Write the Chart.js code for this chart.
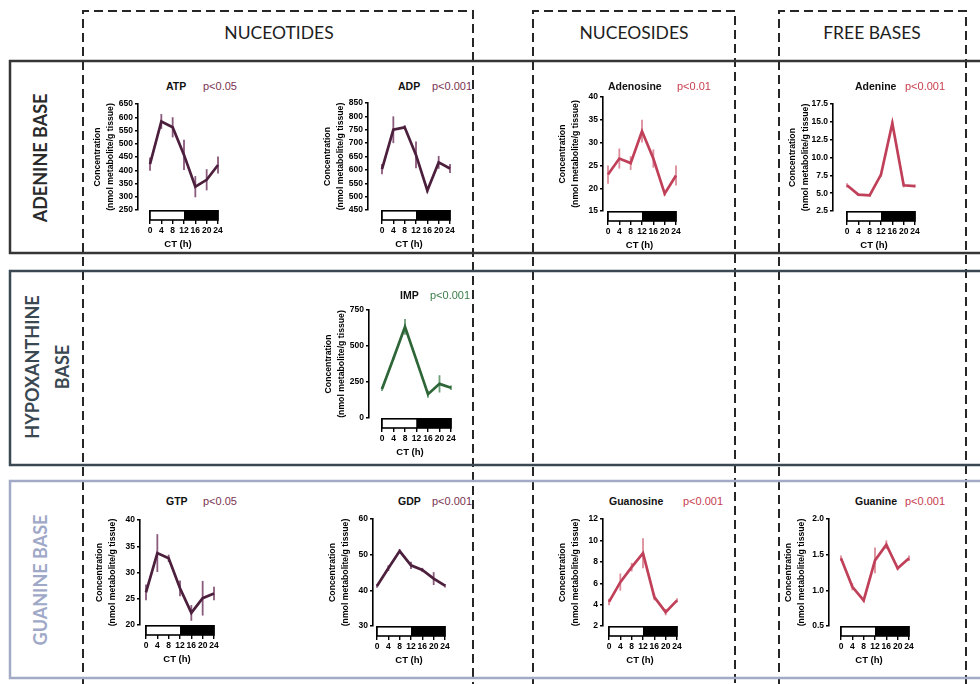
<!DOCTYPE html>
<html>
<head>
<meta charset="utf-8">
<script src="https://cdn.jsdelivr.net/npm/chart.js@4.4.1/dist/chart.umd.min.js"></script>
<style>
  body { margin: 0; background: #fff; width: 980px; height: 684px; overflow: hidden; position: relative; font-family: "Liberation Sans", Arial, sans-serif; }
  canvas { position: absolute; }
  svg { position: absolute; left: 0; top: 0; }
  .hdr { position: absolute; font-family: Lato, sans-serif; font-size: 17.5px; color: #1e1e1e; transform: translate(-50%, -50%); white-space: nowrap; }
  .row { position: absolute; font-family: Lato, sans-serif; font-weight: 700; font-size: 18px; line-height: 30px; text-align: center; white-space: nowrap; transform: translate(-50%, -50%) rotate(-90deg); }
  .name { position: absolute; font-weight: bold; font-size: 10.5px; color: #111; transform: translateY(-50%); white-space: nowrap; }
  .pval { position: absolute; font-size: 11px; transform: translateY(-50%); white-space: nowrap; }
</style>
</head>
<body>
<svg width="980" height="684">
  <g fill="none" stroke="#262626" stroke-width="2" stroke-dasharray="9 5">
    <path d="M83 700 V11 H473 V700"/>
    <path d="M533 700 V11 H735 V700"/>
    <path d="M779 700 V11 H966 V700"/>
  </g>
  <rect x="10" y="61" width="1000" height="192" fill="none" stroke="#353535" stroke-width="2.5"/>
  <rect x="10" y="271" width="1000" height="194" fill="none" stroke="#3a4852" stroke-width="2.5"/>
  <rect x="10" y="481" width="1000" height="197" fill="none" stroke="#a3aac6" stroke-width="2.5"/>
</svg>

<div class="hdr" style="left:279px;top:32px">NUCEOTIDES</div>
<div class="hdr" style="left:634px;top:32px">NUCEOSIDES</div>
<div class="hdr" style="left:872px;top:32px">FREE BASES</div>

<div class="row" style="left:40px;top:158px;color:#2a2a2a">ADENINE BASE</div>
<div class="row" style="left:47px;top:367px;color:#3a4852">HYPOXANTHINE<br>BASE</div>
<div class="row" style="left:40px;top:580px;color:#a0a8c8">GUANINE BASE</div>

<script>
// sampling times (circadian time, hours)
var ctHours = [0, 4, 8, 12, 16, 20, 24];
// light phase 0-12, dark phase 12-24
var lightPhase = [0, 12];
var darkPhase = [12, 24];

var atpMean = [423, 584, 562, 458, 338, 364, 420];
var atpErr = [25, 28, 38, 57, 40, 40, 32];
var adpMean = [603, 750, 759, 656, 523, 628, 605];
var adpErr = [19, 50, 8, 50, 8, 24, 17];
var adenosineMean = [23, 26.5, 25.5, 32.5, 26.5, 18.8, 22.8];
var adenosineErr = [2, 2.2, 1.5, 2.5, 2, 0.5, 2.2];
var adenineMean = [6.1, 4.8, 4.7, 7.6, 14.8, 6.1, 6.0];
var adenineErr = [0.3, 0.2, 0.2, 0.3, 0.4, 0.3, 0.2];
var impMean = [202, 415, 633, 400, 165, 237, 210];
var impErr = [15, 10, 55, 10, 25, 60, 15];
var gtpMean = [26.2, 33.7, 32.7, 27, 22.3, 25.1, 26];
var gtpErr = [1.5, 3.6, 0.7, 1.5, 1.5, 3.3, 1.3];
var gdpMean = [41.2, 46.2, 51, 47, 45.7, 43.3, 41.3];
var gdpErr = [0.5, 0.8, 0.5, 1, 0.6, 1.8, 0.5];
var guanosineMean = [4.25, 6.1, 7.5, 8.8, 4.7, 3.3, 4.4];
var guanosineErr = [0.3, 0.8, 0.4, 1.4, 0.3, 0.3, 0.2];
var guanineMean = [1.45, 1.05, 0.86, 1.42, 1.64, 1.31, 1.45];
var guanineErr = [0.04, 0.05, 0.03, 0.18, 0.06, 0.03, 0.04];

// y tick labels
var atpTicks = ['250', '300', '350', '400', '450', '500', '550', '600', '650'];
var adpTicks = ['450', '500', '550', '600', '650', '700', '750', '800', '850'];
var adenosineTicks = ['15', '20', '25', '30', '35', '40'];
var adenineTicks = ['2.5', '5.0', '7.5', '10.0', '12.5', '15.0', '17.5'];
var impTicks = ['0', '250', '500', '750'];
var gtpTicks = ['20', '25', '30', '35', '40'];
var gdpTicks = ['30', '40', '50', '60'];
var guanosineTicks = ['2', '4', '6', '8', '10', '12'];
var guanineTicks = ['0.5', '1.0', '1.5', '2.0'];

var plum = { line: '#4c1f3d', err: '#8a5a7c', p: '#7b3352' };
var rose = { line: '#c0405a', err: '#dc8c9a', p: '#c8404f' };
var green = { line: '#2e6638', err: '#6d9e76', p: '#3c7c48' };

var AXIS_W = 50, PAD = 10, XAXIS_H = 43, BAR_H = 10;

var errorBars = {
    id: 'errorBars',
    beforeDatasetsDraw: function (chart, args, opts) {
        var ctx = chart.ctx, x = chart.scales.x, y = chart.scales.y;
        ctx.save();
        ctx.strokeStyle = opts.color;
        ctx.lineWidth = 1.8;
        opts.mean.forEach(function (m, i) {
            var px = x.getPixelForValue(ctHours[i]);
            ctx.beginPath();
            ctx.moveTo(px, y.getPixelForValue(m - opts.err[i]));
            ctx.lineTo(px, y.getPixelForValue(m + opts.err[i]));
            ctx.stroke();
        });
        ctx.restore();
    }
};

var lightDark = {
    id: 'lightDark',
    afterDraw: function (chart) {
        var ctx = chart.ctx, x = chart.scales.x, top = chart.chartArea.bottom;
        var l0 = x.getPixelForValue(lightPhase[0]), l1 = x.getPixelForValue(lightPhase[1]);
        var d1 = x.getPixelForValue(darkPhase[1]);
        ctx.save();
        ctx.fillStyle = '#fff';
        ctx.fillRect(l0, top, l1 - l0, BAR_H);
        ctx.fillStyle = '#000';
        ctx.fillRect(l1, top, d1 - l1, BAR_H);
        ctx.strokeStyle = '#000';
        ctx.lineWidth = 1.6;
        ctx.strokeRect(l0, top + 0.8, d1 - l0, BAR_H - 0.8);
        ctx.restore();
    }
};

function panel(geo, name, pText, mean, err, ticks, col) {
    var w = geo.x24 - geo.axisX + AXIS_W + PAD;
    var h = geo.yBot - geo.yTop + PAD + XAXIS_H;
    var cv = document.createElement('canvas');
    cv.width = w; cv.height = h;
    cv.style.left = (geo.axisX - AXIS_W) + 'px';
    cv.style.top = (geo.yTop - PAD) + 'px';
    document.body.appendChild(cv);

    var n = document.createElement('div');
    n.className = 'name'; n.textContent = name;
    n.style.left = geo.nameX + 'px'; n.style.top = geo.titleY + 'px';
    document.body.appendChild(n);
    var p = document.createElement('div');
    p.className = 'pval'; p.textContent = pText; p.style.color = col.p;
    p.style.left = geo.pX + 'px'; p.style.top = geo.titleY + 'px';
    document.body.appendChild(p);

    var tickVals = ticks.map(parseFloat);
    var xMin = -(geo.x0 - geo.axisX) * 24 / (geo.x24 - geo.x0);

    new Chart(cv, {
        type: 'line',
        data: {
            datasets: [{
                data: mean.map(function (v, i) { return { x: ctHours[i], y: v }; }),
                borderColor: col.line,
                borderWidth: 2.7,
                pointRadius: 0,
                tension: 0,
                clip: false
            }]
        },
        options: {
            responsive: false,
            animation: false,
            layout: { padding: { top: PAD, right: PAD, left: 0, bottom: 0 } },
            plugins: {
                legend: { display: false },
                tooltip: { enabled: false },
                errorBars: { mean: mean, err: err, color: col.err }
            },
            scales: {
                x: {
                    type: 'linear',
                    min: xMin, max: 24,
                    afterBuildTicks: function (s) { s.ticks = ctHours.map(function (v) { return { value: v }; }); },
                    afterFit: function (s) { s.height = XAXIS_H; },
                    border: { display: false },
                    grid: { drawOnChartArea: false, drawTicks: true, tickLength: 14, color: '#000', lineWidth: 1.4 },
                    ticks: { color: '#000', font: { family: 'Liberation Sans', size: 8.5, weight: 'bold' }, padding: 2, maxRotation: 0, autoSkip: false },
                    title: { display: true, text: 'CT (h)', color: '#000', font: { family: 'Liberation Sans', size: 9.5, weight: 'bold' }, padding: { top: 0, bottom: 3 } }
                },
                y: {
                    min: tickVals[0], max: tickVals[tickVals.length - 1],
                    afterBuildTicks: function (s) { s.ticks = tickVals.map(function (v) { return { value: v }; }); },
                    afterFit: function (s) { s.width = AXIS_W; },
                    border: { display: true, color: '#000', width: 1.6 },
                    grid: { drawOnChartArea: false, drawTicks: true, tickLength: 3, color: '#000', lineWidth: 1.4 },
                    ticks: { color: '#000', font: { family: 'Liberation Sans', size: 8.5, weight: 'bold' }, padding: 2,
                        callback: function (v, i) { return ticks[i]; } },
                    title: { display: true, text: ['Concentration', '(nmol metabolite/g tissue)'], color: '#000',
                        font: { family: 'Liberation Sans', size: 8.7, weight: 'bold', lineHeight: 1.5 }, padding: { top: 3, bottom: 0 } }
                }
            }
        },
        plugins: [errorBars, lightDark]
    });
}

panel({ axisX: 138, x0: 150, x24: 218, yTop: 104, yBot: 210, nameX: 166, pX: 203, titleY: 86 }, 'ATP', 'p<0.05', atpMean, atpErr, atpTicks, plum);
panel({ axisX: 368, x0: 382, x24: 450, yTop: 103, yBot: 210, nameX: 398, pX: 432, titleY: 86 }, 'ADP', 'p<0.001', adpMean, adpErr, adpTicks, plum);
panel({ axisX: 603, x0: 608, x24: 676, yTop: 97, yBot: 211, nameX: 608, pX: 677, titleY: 86 }, 'Adenosine', 'p<0.01', adenosineMean, adenosineErr, adenosineTicks, rose);
panel({ axisX: 833, x0: 847, x24: 915, yTop: 104, yBot: 211, nameX: 855, pX: 905, titleY: 86 }, 'Adenine', 'p<0.001', adenineMean, adenineErr, adenineTicks, rose);
panel({ axisX: 369, x0: 382, x24: 451, yTop: 310, yBot: 418, nameX: 400, pX: 430, titleY: 295 }, 'IMP', 'p<0.001', impMean, impErr, impTicks, green);
panel({ axisX: 140, x0: 146, x24: 214, yTop: 520, yBot: 625, nameX: 166, pX: 203, titleY: 501 }, 'GTP', 'p<0.05', gtpMean, gtpErr, gtpTicks, plum);
panel({ axisX: 373, x0: 377, x24: 445, yTop: 519, yBot: 626, nameX: 398, pX: 432, titleY: 501 }, 'GDP', 'p<0.001', gdpMean, gdpErr, gdpTicks, plum);
panel({ axisX: 603, x0: 609, x24: 677, yTop: 519, yBot: 626, nameX: 609, pX: 683, titleY: 501 }, 'Guanosine', 'p<0.001', guanosineMean, guanosineErr, guanosineTicks, rose);
panel({ axisX: 829, x0: 841, x24: 909, yTop: 519, yBot: 626, nameX: 855, pX: 905, titleY: 501 }, 'Guanine', 'p<0.001', guanineMean, guanineErr, guanineTicks, rose);
</script>
</body>
</html>
